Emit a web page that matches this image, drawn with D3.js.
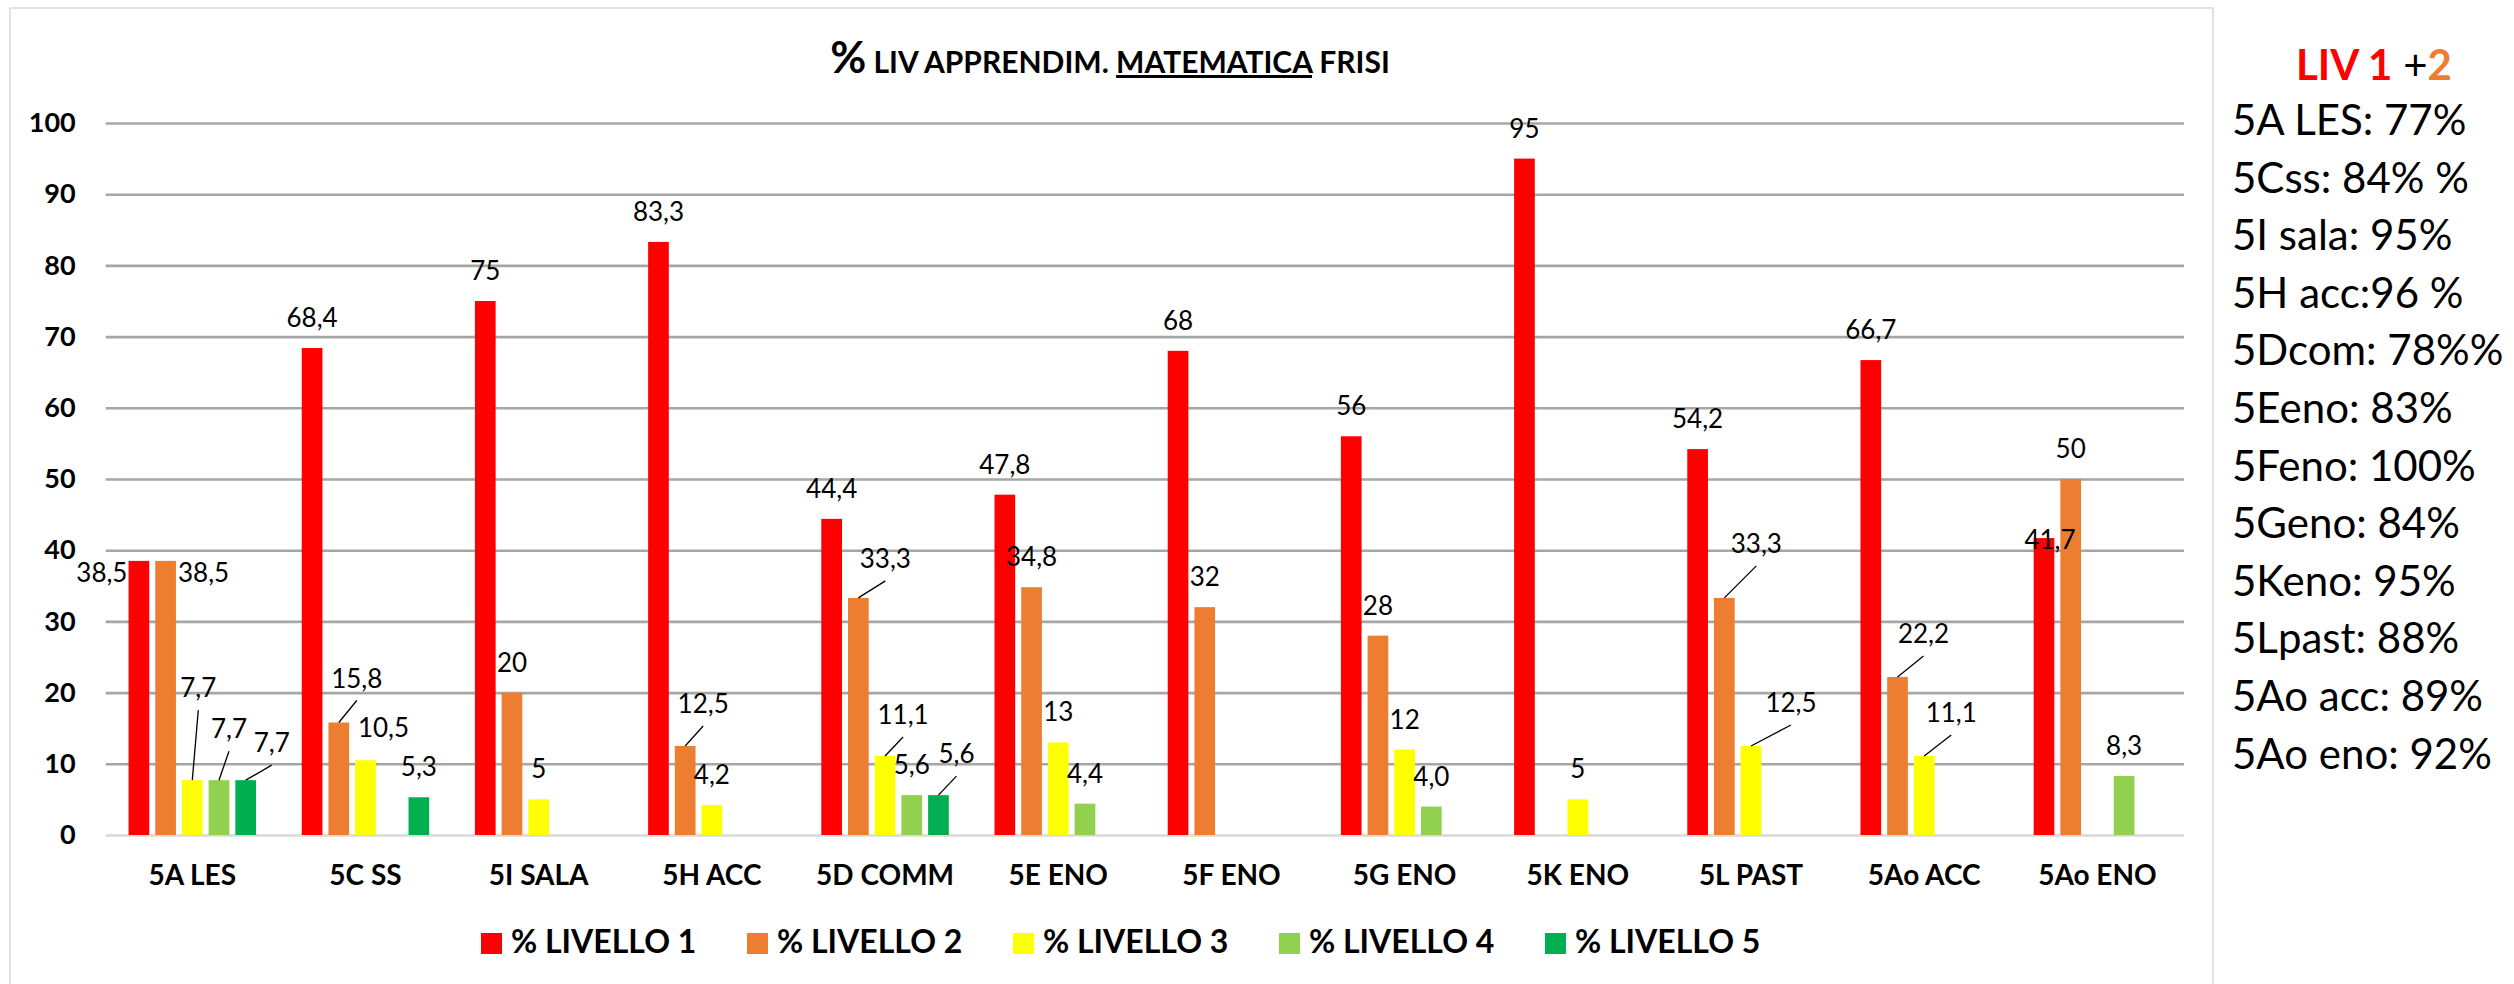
<!DOCTYPE html>
<html><head><meta charset="utf-8">
<script src="https://cdn.jsdelivr.net/npm/d3@7"></script>
<style>
html,body{margin:0;padding:0;background:#fff;}
svg{display:block;font-family:Lato,"Open Sans",sans-serif;}
</style></head><body>
<svg id="chart" width="2514" height="984"></svg>
<script>
// ---------- DATA ----------
const categories = ["5A LES","5C SS","5I SALA","5H ACC","5D COMM","5E ENO","5F ENO","5G ENO","5K ENO","5L PAST","5Ao ACC","5Ao ENO"];
const seriesNames = ["% LIVELLO 1","% LIVELLO 2","% LIVELLO 3","% LIVELLO 4","% LIVELLO 5"];
const livello1 = [38.5, 68.4, 75, 83.3, 44.4, 47.8, 68, 56, 95, 54.2, 66.7, 41.7];
const livello2 = [38.5, 15.8, 20, 12.5, 33.3, 34.8, 32, 28, null, 33.3, 22.2, 50];
const livello3 = [7.7, 10.5, 5, 4.2, 11.1, 13, null, 12, 5, 12.5, 11.1, null];
const livello4 = [7.7, null, null, null, 5.6, 4.4, null, 4.0, null, null, null, 8.3];
const livello5 = [7.7, 5.3, null, null, 5.6, null, null, null, null, null, null, null];
const yTicks = [0,10,20,30,40,50,60,70,80,90,100];
const titleParts = ["%", " LIV APPRENDIM. ", "MATEMATICA", " FRISI"];
const sideTitle = ["LIV 1", " +", "2"];
const sideLines = ["5A LES: 77%","5Css: 84% %","5I sala: 95%","5H acc:96 %","5Dcom: 78%%","5Eeno: 83%","5Feno: 100%","5Geno: 84%","5Keno: 95%","5Lpast: 88%","5Ao acc: 89%","5Ao eno: 92%"];
const labelTextOverride = {"3-7": "4,0"};

// ---------- STYLE ----------
const colors = ["#FF0000","#ED7D31","#FFFF00","#92D050","#00B050"];
const allSeries = [livello1, livello2, livello3, livello4, livello5];
// label placement tweaks (series-group): offsets from default position
const labelAdjust = {
  "0-0": {dx:-37, dy:42}, "1-0": {dx:38, dy:42},
  "2-0": {dx:6, dy:-62, leader:true}, "3-0": {dx:10, dy:-21, leader:true}, "4-0": {dx:26, dy:-7, leader:true},
  "1-1": {dx:18, dy:-14, leader:true}, "2-1": {dx:18, dy:-2},
  "1-3": {dx:18, dy:-12, leader:true},
  "1-4": {dx:27, dy:-9, leader:true}, "2-4": {dx:18, dy:-11, leader:true}, "4-4": {dx:18, dy:-11, leader:true},
  "1-9": {dx:32, dy:-24, leader:true}, "2-9": {dx:40, dy:-13, leader:true},
  "1-10": {dx:26, dy:-13, leader:true}, "2-10": {dx:27, dy:-13, leader:true},
  "0-11": {dx:6, dy:32}
};

const plotLeft = 105.7, plotRight = 2184, yBottom = 835, yTop = 123;
const svg = d3.select("#chart");

// chart border
svg.append("rect").attr("x",10).attr("y",8).attr("width",2203).attr("height",1020)
  .attr("fill","#fff").attr("stroke","#d9d9d9").attr("stroke-width",1.5);

const y = d3.scaleLinear().domain([0,100]).range([yBottom, yTop]);
const x0 = d3.scaleBand().domain(categories).range([plotLeft, plotRight]).padding(0);
const x1 = d3.scaleBand().domain(d3.range(5)).range([0, x0.bandwidth()]).paddingInner(0.225).paddingOuter(0.856);

// y axis + gridlines
const gy = svg.append("g").attr("transform",`translate(${plotLeft},0)`)
  .call(d3.axisLeft(y).tickValues(yTicks).tickSize(-(plotRight-plotLeft)).tickPadding(30).tickFormat(d3.format("d")));
gy.select(".domain").remove();
gy.attr("font-family","Lato");
gy.selectAll(".tick line").attr("stroke", d => d===0 ? "#d9d9d9" : "#a6a6a6").attr("stroke-width",2.6);
gy.selectAll(".tick text").attr("font-size",27).attr("font-weight",700).attr("fill","#000");

// bars
categories.forEach((cat, g) => {
  allSeries.forEach((arr, s) => {
    const v = arr[g];
    if (v == null) return;
    svg.append("rect")
      .attr("x", x0(cat) + x1(s)).attr("y", y(v))
      .attr("width", x1.bandwidth()).attr("height", y(0) - y(v))
      .attr("fill", colors[s]);
  });
});

// x axis labels
const gx = svg.append("g").attr("transform",`translate(0,${yBottom})`)
  .call(d3.axisBottom(x0).tickSize(0).tickPadding(0));
gx.select(".domain").remove();
gx.attr("font-family","Lato");
gx.selectAll("text").attr("dy",0).attr("y",50).attr("font-size",28).attr("font-weight",700).attr("fill","#000");

// data labels
const fmt = v => Number.isInteger(v) ? String(v) : v.toFixed(1).replace(".", ",");
categories.forEach((cat, g) => {
  allSeries.forEach((arr, s) => {
    const v = arr[g];
    if (v == null) return;
    const key = s + "-" + g;
    const adj = labelAdjust[key] || {dx:0, dy:0};
    const cx = x0(cat) + x1(s) + x1.bandwidth()/2;
    const top = y(v);
    const lx = cx + adj.dx, ly = top - 21 + adj.dy;
    if (adj.leader) {
      svg.append("line").attr("x1", lx).attr("y1", ly + 13).attr("x2", cx).attr("y2", top)
        .attr("stroke","#000").attr("stroke-width",1.3);
    }
    svg.append("text").attr("x", lx).attr("y", ly).attr("text-anchor","middle")
      .attr("font-size",26).attr("fill","#000")
      .text(labelTextOverride[key] || fmt(v));
  });
});

// title
const title = svg.append("text").attr("x",1110).attr("y",73).attr("text-anchor","middle")
  .attr("font-weight",700).attr("fill","#000").style("white-space","pre");
title.append("tspan").attr("font-size",44).text(titleParts[0]);
title.append("tspan").attr("font-size",30).text(titleParts[1]);
title.append("tspan").attr("font-size",30).style("text-decoration","underline").text(titleParts[2]);
title.append("tspan").attr("font-size",30).text(titleParts[3]);

// legend
seriesNames.forEach((name, i) => {
  const lx = 481 + 266*i;
  svg.append("rect").attr("x", lx).attr("y", 933).attr("width", 21).attr("height", 21).attr("fill", colors[i]);
  svg.append("text").attr("x", lx + 30).attr("y", 953).attr("font-size", 32).attr("font-weight",700)
    .attr("fill","#000").style("white-space","pre").text(name);
});

// side panel
const st = svg.append("text").attr("x",2296).attr("y",80).attr("font-size",42).attr("font-weight",700).style("white-space","pre");
st.append("tspan").attr("fill","#FF0000").text(sideTitle[0]);
st.append("tspan").attr("fill","#000").attr("font-weight",400).text(sideTitle[1]);
st.append("tspan").attr("fill","#ED7D31").text(sideTitle[2]);
sideLines.forEach((t, i) => {
  svg.append("text").attr("x",2232).attr("y",135 + i*57.6).attr("font-size",42).attr("fill","#000").text(t);
});
</script>
</body></html>
